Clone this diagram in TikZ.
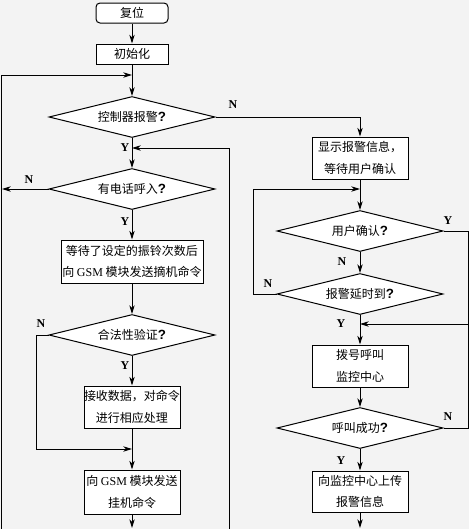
\documentclass[tikz,border=0pt]{standalone}
\usepackage{fontspec}
\setmainfont{Noto Sans CJK SC}
\newfontfamily\serifen{Liberation Serif}
\newfontfamily\qfont{Liberation Sans}
\usetikzlibrary{shapes.geometric,arrows.meta}
\definecolor{bgcol}{RGB}{243,243,243}
\tikzset{
  box/.style={draw, fill=white, line width=0.75pt, align=center, inner sep=0pt,
    font=\fontsize{9}{16}\selectfont},
  dia/.style={draw, diamond, fill=white, line width=0.75pt, inner sep=0pt,
    shape aspect=4, minimum width=124.5pt, minimum height=30.75pt,
    font=\fontsize{9}{11}\selectfont},
  arr/.style={line width=0.75pt, -{Stealth[length=6.5pt,width=4pt,inset=2pt]}},
  ln/.style={line width=0.75pt},
  lbl/.style={font=\serifen\bfseries\fontsize{9}{10}\selectfont, inner sep=0pt}
}
\newcommand{\gsm}{{\serifen GSM}}
\newcommand{\qm}{{\qfont\bfseries\fontsize{10}{11}\selectfont ?}}
\begin{document}
\begin{tikzpicture}[x=0.75pt,y=-0.75pt]
\fill[bgcol] (0,0) rectangle (469,529);
\useasboundingbox (0,0) rectangle (469,529);

% left column
\node[box, rounded corners=3pt, minimum width=54pt, minimum height=15pt] (reset) at (132,13) {复位};
\node[box, minimum width=54pt, minimum height=15pt] (init) at (132,54) {初始化};
\node[dia] (d1) at (132,117) {控制器报警\qm};
\node[dia] (d2) at (132,189) {有电话呼入\qm};
\node[box, minimum width=106.5pt, minimum height=32.25pt] (b1) at (132,261.5) {等待了设定的振铃次数后\\向 \gsm{} 模块发送摘机命令};
\node[dia] (d3) at (132,335) {合法性验证\qm};
\node[box, minimum width=72pt, minimum height=31.5pt] (b2) at (132,407) {接收数据，对命令\\进行相应处理};
\node[box, minimum width=72pt, minimum height=33pt] (b3) at (132,492) {向 \gsm{} 模块发送\\挂机命令};

% right column
\node[box, minimum width=72pt, minimum height=31.5pt] (b4) at (360,158) {显示报警信息，\\等待用户确认};
\node[dia] (d4) at (360,231) {用户确认\qm};
\node[dia] (d5) at (360,294) {报警延时到\qm};
\node[box, minimum width=72pt, minimum height=31.5pt] (b5) at (360,366) {拨号呼叫\\监控中心};
\node[dia] (d6) at (360,428) {呼叫成功\qm};
\node[box, minimum width=72pt, minimum height=30.75pt] (b6) at (360,491.5) {向监控中心上传\\报警信息};

% coordinates
\coordinate (j1) at (132,75);
\coordinate (l1) at (1,529);
\coordinate (j2) at (132,148);
\coordinate (r1) at (229,529);
\coordinate (out1) at (2,189);
\coordinate (j3) at (132,449);
\coordinate (c3) at (36,335);
\coordinate (bot1) at (132,528);
\coordinate (j4) at (360,189);
\coordinate (c5) at (253,294);
\coordinate (j5) at (360,324);
\coordinate (r2) at (468,324);
\coordinate (r2t) at (468,231);
\coordinate (r2b) at (468,428);
\coordinate (bot2) at (360,528);

% left connectors
\draw[arr] (reset) -- (init);
\draw[arr] (init) -- (d1);
\draw[arr] (l1) |- (j1);
\draw[arr] (d1) -- (d2);
\draw[arr] (r1) |- (j2);
\draw[arr] (d2.west) -- (out1);
\draw[arr] (d2) -- (b1);
\draw[arr] (b1) -- (d3);
\draw[arr] (d3) -- (b2);
\draw[arr] (d3.west) -- (c3) |- (j3);
\draw[arr] (b2) -- (b3);
\draw[arr] (b3) -- (bot1);

% right connectors
\draw[arr] (d1.east) -| (b4.north);
\draw[arr] (b4) -- (d4);
\draw[arr] (d5.west) -- (c5) |- (j4);
\draw[arr] (d4) -- (d5);
\draw[arr] (d5) -- (b5);
\draw[ln] (d4.east) -- (r2t) -- (r2b) -- (d6.east);
\draw[arr] (r2) -- (j5);
\draw[arr] (b5) -- (d6);
\draw[arr] (d6) -- (b6);
\draw[arr] (b6) -- (bot2);

% labels
\node[lbl] at (233,105) {N};
\node[lbl] at (125,148) {Y};
\node[lbl] at (29,180) {N};
\node[lbl] at (125,222) {Y};
\node[lbl] at (41,324) {N};
\node[lbl] at (125,366) {Y};
\node[lbl] at (342,262) {N};
\node[lbl] at (268,284) {N};
\node[lbl] at (448,221) {Y};
\node[lbl] at (341,324) {Y};
\node[lbl] at (448,417) {N};
\node[lbl] at (341,461) {Y};
\end{tikzpicture}
\end{document}
